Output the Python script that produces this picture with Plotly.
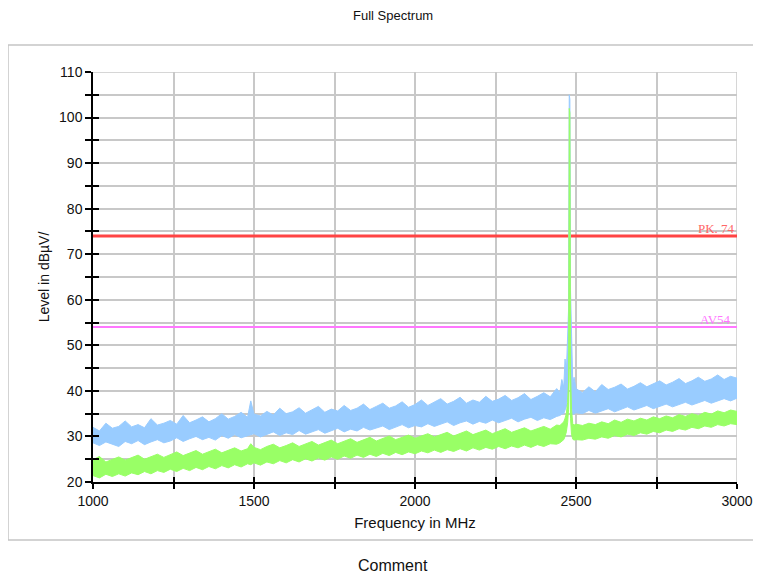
import plotly.graph_objects as go

# ---------------- data ----------------
freq_low = [1000, 1020, 1040, 1060, 1080, 1100, 1120, 1140, 1160, 1180,
            1200, 1220, 1240, 1260, 1280, 1300, 1320, 1340, 1360, 1380,
            1400, 1420, 1440, 1460, 1480, 1490, 1500, 1520, 1540, 1560, 1580,
            1600, 1620, 1640, 1660, 1680, 1700, 1720, 1740, 1760, 1780,
            1800, 1820, 1840, 1860, 1880, 1900, 1920, 1940, 1960, 1980,
            2000, 2020, 2040, 2060, 2080, 2100, 2120, 2140, 2160, 2180,
            2200, 2220, 2240, 2260, 2280, 2300, 2320, 2340, 2360, 2380,
            2400, 2420, 2440]
freq_peak = [2450, 2456, 2462, 2466, 2470, 2474, 2477, 2479, 2481, 2483,
             2486, 2490, 2494, 2500]
freq_high = [2520, 2540, 2560, 2580, 2600, 2620, 2640, 2660, 2680, 2700,
             2720, 2740, 2760, 2780, 2800, 2820, 2840, 2860, 2880, 2900,
             2920, 2940, 2960, 2980, 3000]

# Peak detector trace (blue): upper / lower edge of the noise band
peak_max_low = [32.0, 31.2, 32.9, 31.8, 32.2, 33.4, 32.1, 32.6, 31.9, 33.9,
                32.5, 32.9, 33.5, 32.7, 34.6, 33.0, 33.6, 34.3, 33.2, 33.9,
                35.0, 33.8, 34.4, 35.3, 34.2, 37.8, 34.9, 34.5, 35.5, 34.7, 36.2,
                35.0, 35.4, 36.3, 35.1, 35.9, 36.6, 35.3, 36.0, 35.6, 36.8,
                35.7, 36.2, 37.1, 35.9, 36.6, 37.3, 36.2, 36.7, 37.6, 36.4,
                37.0, 38.0, 36.8, 37.5, 38.3, 37.1, 37.7, 38.6, 37.3, 38.0,
                37.5, 38.8, 37.7, 38.2, 39.0, 37.9, 38.5, 39.4, 38.1, 38.8,
                39.6, 38.7, 40.5]
peak_min_low = [28.6, 28.0, 28.8, 28.3, 27.8, 28.9, 28.4, 29.1, 28.2, 28.8,
                29.3, 28.6, 29.0, 29.7, 28.9, 29.5, 30.0, 29.3, 29.8, 29.2,
                30.2, 29.6, 30.4, 29.7, 30.1, 30.3, 30.6, 29.9, 30.5, 31.0, 30.2,
                30.8, 30.4, 31.3, 30.5, 31.0, 31.5, 30.7, 31.3, 31.8, 31.0,
                31.6, 31.2, 32.0, 31.4, 31.9, 32.3, 31.5, 32.1, 32.6, 31.9,
                32.4, 32.1, 32.8, 32.2, 32.7, 33.2, 32.4, 33.0, 33.4, 32.7,
                33.3, 32.9, 33.6, 33.0, 33.5, 34.0, 33.2, 33.8, 34.2, 33.5,
                34.1, 33.7, 34.4]
peak_max_peak = [39.6, 42.5, 40.8, 47.0, 44.0, 52.5, 58.0, 105.0, 104.0, 62.0,
                 52.0, 41.5, 43.0, 40.5]
peak_min_peak = [34.6, 34.9, 35.0, 35.8, 36.5, 38.5, 42.0, 55.0, 55.0, 42.0,
                 37.0, 34.8, 35.0, 35.2]
peak_max_high = [39.6, 40.9, 39.8, 41.4, 40.3, 40.8, 41.5, 40.4, 41.0, 41.8,
                 40.9, 41.5, 42.2, 41.3, 41.9, 42.7, 41.6, 42.2, 43.0, 42.1,
                 42.6, 43.5, 42.5, 43.2, 42.8]
peak_min_high = [35.0, 35.7, 35.1, 35.6, 36.1, 35.4, 36.0, 36.5, 35.8, 36.3,
                 36.8, 36.1, 36.6, 37.1, 36.5, 37.0, 37.5, 36.9, 37.4, 37.9,
                 37.3, 37.8, 38.3, 37.8, 38.4]

# Average detector trace (green)
avg_max_low = [24.9, 25.6, 24.4, 25.0, 25.5, 24.8, 25.3, 25.9, 25.0, 25.6,
               26.1, 25.4, 26.0, 26.6, 25.8, 26.3, 26.9, 26.1, 26.6, 27.2,
               26.4, 27.0, 27.5, 26.8, 27.3, 28.4, 27.6, 27.1, 27.8, 28.3, 27.5,
               28.0, 28.6, 27.8, 28.4, 28.9, 28.1, 28.7, 29.2, 28.4, 28.9,
               29.5, 28.7, 29.3, 29.8, 29.0, 29.6, 30.1, 29.3, 29.8, 30.3,
               29.6, 30.1, 30.6, 29.9, 30.4, 30.9, 30.1, 30.7, 31.2, 30.4,
               30.9, 31.4, 30.6, 31.2, 31.7, 30.9, 31.4, 31.9, 31.2, 31.7,
               32.2, 31.6, 32.5]
avg_min_low = [21.4, 20.9, 21.7, 21.2, 21.8, 21.3, 22.0, 21.6, 22.3, 21.8,
               22.5, 22.1, 22.8, 22.3, 23.0, 22.5, 23.2, 22.7, 23.4, 22.9,
               23.6, 23.1, 23.8, 23.3, 24.0, 23.8, 24.2, 23.7, 24.4, 24.0, 24.7,
               24.2, 24.9, 24.4, 25.1, 24.6, 25.3, 24.8, 25.5, 25.0, 25.7,
               25.2, 25.9, 25.4, 26.1, 25.6, 26.3, 25.8, 26.5, 26.0, 26.6,
               26.2, 26.8, 26.4, 27.0, 26.5, 27.1, 26.7, 27.3, 26.8, 27.5,
               27.0, 27.6, 27.2, 27.8, 27.3, 27.9, 27.5, 28.1, 27.6, 28.2,
               27.8, 28.4, 28.3]
avg_max_peak = [32.4, 32.8, 33.2, 34.0, 35.0, 37.5, 42.0, 102.0, 101.0, 44.0,
                36.0, 32.8, 32.5, 32.7]
avg_min_peak = [28.6, 28.9, 29.3, 30.0, 31.0, 33.0, 36.0, 48.0, 48.0, 34.0,
                30.5, 29.4, 29.2, 29.3]
avg_max_high = [32.4, 32.9, 32.6, 33.2, 32.8, 33.6, 33.1, 33.8, 33.4, 34.0,
                33.6, 34.3, 33.9, 34.5, 34.1, 34.8, 34.4, 35.0, 34.6, 35.3,
                34.9, 35.6, 35.2, 35.8, 35.5]
avg_min_high = [29.2, 29.6, 29.4, 29.9, 29.6, 30.2, 29.9, 30.5, 30.2, 30.8,
                30.5, 31.1, 30.8, 31.4, 31.1, 31.7, 31.4, 32.0, 31.7, 32.3,
                32.0, 32.6, 32.3, 32.8, 32.6]

limit_freq = [1000, 3000]
pk_limit = 74
av_limit = 54
x_range = [1000, 3000]
y_range = [20, 110]

# ---------------- figure ----------------
freq = freq_low + freq_peak + freq_high
peak_max = peak_max_low + peak_max_peak + peak_max_high
peak_min = peak_min_low + peak_min_peak + peak_min_high
avg_max = avg_max_low + avg_max_peak + avg_max_high
avg_min = avg_min_low + avg_min_peak + avg_min_high

BLUE = "#99ccff"
GREEN = "#99ff66"
FONT = "Liberation Sans, Arial, sans-serif"

fig = go.Figure()

fig.add_trace(go.Scatter(x=limit_freq, y=[pk_limit] * 2, mode="lines",
                         line=dict(color="#ff4444", width=3), hoverinfo="skip"))
fig.add_trace(go.Scatter(x=limit_freq, y=[av_limit] * 2, mode="lines",
                         line=dict(color="#ff77ff", width=2), hoverinfo="skip"))

for lo, hi, col in [(peak_min, peak_max, BLUE), (avg_min, avg_max, GREEN)]:
    fig.add_trace(go.Scatter(x=freq, y=lo, mode="lines",
                             line=dict(color=col, width=1), hoverinfo="skip"))
    fig.add_trace(go.Scatter(x=freq, y=hi, mode="lines", fill="tonexty",
                             fillcolor=col,
                             line=dict(color=col, width=1), hoverinfo="skip"))

# dummy trace for overlay axes (inside tick marks)
fig.add_trace(go.Scatter(x=[], y=[], xaxis="x2", yaxis="y2", hoverinfo="skip"))

GRID = "#c8c8c8"
fig.update_layout(
    width=745, height=568, autosize=False,
    margin=dict(l=85, r=16, t=64, b=94, autoexpand=False),
    paper_bgcolor="white", plot_bgcolor="white",
    showlegend=False,
    font=dict(family=FONT, color="#111111", size=14),
    xaxis=dict(range=x_range, tickvals=[1000, 1500, 2000, 2500, 3000],
               automargin=False,
               ticks="outside", ticklen=5, tickcolor="black", tickwidth=1.5,
               showline=True, linecolor="black", linewidth=1.5,
               showgrid=True, gridcolor=GRID, gridwidth=1.5,
               minor=dict(dtick=250, tick0=1000, ticks="outside", ticklen=5,
                          tickcolor="black", tickwidth=1.5, showgrid=True,
                          gridcolor=GRID, gridwidth=1.5),
               zeroline=False, tickfont=dict(size=14, family=FONT),
               title=dict(text="Frequency in MHz", standoff=10,
                          font=dict(size=15, family=FONT))),
    yaxis=dict(range=y_range, tickvals=list(range(20, 111, 10)),
               automargin=False,
               ticks="outside", ticklen=6, tickcolor="black", tickwidth=1.5,
               showline=True, linecolor="black", linewidth=1.5,
               showgrid=True, gridcolor=GRID, gridwidth=1.5,
               minor=dict(dtick=5, tick0=20, ticks="outside", ticklen=6,
                          tickcolor="black", tickwidth=1.5, showgrid=True,
                          gridcolor=GRID, gridwidth=1.5),
               zeroline=False, tickfont=dict(size=14, family=FONT),
               title=dict(text="Level in dBµV/", standoff=6,
                          font=dict(size=14, family=FONT))),
    xaxis2=dict(range=x_range, overlaying="x", anchor="y2", dtick=250, tick0=1000,
                automargin=False,
                ticks="inside", ticklen=5, tickcolor="black", tickwidth=1.5,
                showticklabels=False, showgrid=False, showline=False, zeroline=False),
    yaxis2=dict(range=y_range, overlaying="y", anchor="x2", side="left", dtick=5, tick0=20,
                automargin=False,
                ticks="inside", ticklen=6, tickcolor="black", tickwidth=1.5,
                showticklabels=False, showgrid=False, showline=False, zeroline=False),
)

# top and right grid edges
fig.add_shape(type="line", xref="x", yref="y", x0=x_range[0], x1=x_range[1],
              y0=y_range[1], y1=y_range[1], line=dict(color=GRID, width=1.5), layer="below")
fig.add_shape(type="line", xref="x", yref="y", x0=x_range[1], x1=x_range[1],
              y0=y_range[0], y1=y_range[1], line=dict(color=GRID, width=1.5), layer="below")

# outer frame: left, top and bottom edges (runs off the right edge)
FRAME = dict(color="#c4c4c4", width=1.5)
fig.add_shape(type="line", xref="paper", yref="paper", x0=-0.132, x1=1.2,
              y0=1.066, y1=1.066, line=FRAME, layer="below")
fig.add_shape(type="line", xref="paper", yref="paper", x0=-0.132, x1=1.2,
              y0=-0.1415, y1=-0.1415, line=FRAME, layer="below")
fig.add_shape(type="line", xref="paper", yref="paper", x0=-0.132, x1=-0.132,
              y0=-0.1415, y1=1.066, line=FRAME, layer="below")

fig.add_annotation(x=x_range[1], y=pk_limit, xref="x", yref="y", text="PK. 74",
                   showarrow=False, xanchor="right", yanchor="bottom", yshift=-2,
                   font=dict(family="Liberation Serif, DejaVu Serif, serif",
                             size=13, color="#ff6666"))
fig.add_annotation(x=x_range[1], y=av_limit, xref="x", yref="y", text="AV54",
                   showarrow=False, xanchor="right", yanchor="bottom", xshift=-4, yshift=-2,
                   font=dict(family="Liberation Serif, DejaVu Serif, serif",
                             size=13, color="#ff77ff"))

fig.add_annotation(x=0.466, y=1.1366, xref="paper", yref="paper", text="Full Spectrum",
                   showarrow=False, xanchor="center", yanchor="middle",
                   font=dict(size=13, family=FONT, color="#111111"))
fig.add_annotation(x=0.466, y=-0.203, xref="paper", yref="paper", text="Comment",
                   showarrow=False, xanchor="center", yanchor="middle",
                   font=dict(size=16, family=FONT, color="#111111"))

fig.write_html("out.html")
